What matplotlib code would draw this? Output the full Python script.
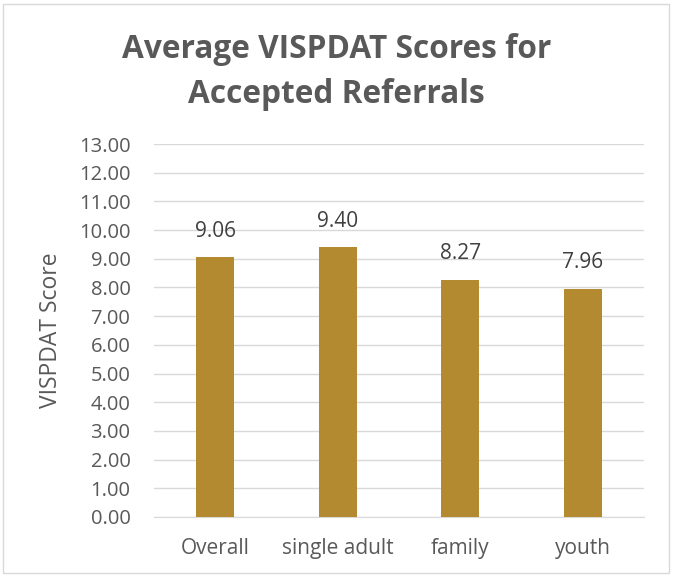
import matplotlib.pyplot as plt
from matplotlib.patches import Rectangle

categories = ['Overall', 'single adult', 'family', 'youth']
scores = [9.06, 9.40, 8.27, 7.96]
yticks = [i for i in range(14)]

plt.rcParams['font.family'] = ['Open Sans', 'DejaVu Sans']
text_color = '#595959'

fig = plt.figure(figsize=(6.73, 5.77), dpi=100)
ax = fig.add_axes([154 / 673, 1 - 517 / 577, 490 / 673, 373 / 577])

x = range(len(categories))
ax.bar(x, scores, width=0.31, color='#B38A30', zorder=3)
for xi, v in zip(x, scores):
    ax.annotate(f'{v:.2f}', (xi, v), xytext=(0, 26), textcoords='offset pixels',
                ha='center', va='center', fontsize=15, color='#404040')

ax.set_xlim(-0.5, len(categories) - 0.5)
ax.set_ylim(0, 13)
ax.set_yticks(yticks)
ax.set_yticklabels([f'{t:.2f}' for t in yticks])
ax.set_xticks(list(x))
ax.set_xticklabels(categories)
ax.tick_params(axis='both', length=0, labelcolor=text_color)
ax.tick_params(axis='x', pad=15, labelsize=15)
ax.tick_params(axis='y', pad=17, labelsize=14.5)
ax.grid(axis='y', color='#D9D9D9', linewidth=1, zorder=0)
for s in ['top', 'right', 'left']:
    ax.spines[s].set_visible(False)
ax.spines['bottom'].set_color('#D9D9D9')
ax.set_ylabel('VISPDAT Score', fontsize=16.5, color=text_color)
ax.yaxis.set_label_coords(-0.186, 0.5)

fig.text(0.5, 1 - 72 / 577, 'Average VISPDAT Scores for\nAccepted Referrals',
         ha='center', va='center', fontsize=22.75, fontweight='bold',
         color=text_color, linespacing=1.5)

fig.patches.append(Rectangle((3 / 673, 4 / 577), 666 / 673, 569 / 577,
                             transform=fig.transFigure, fill=False,
                             edgecolor='#D9D9D9', linewidth=1))

fig.savefig('out.png', dpi=100)
